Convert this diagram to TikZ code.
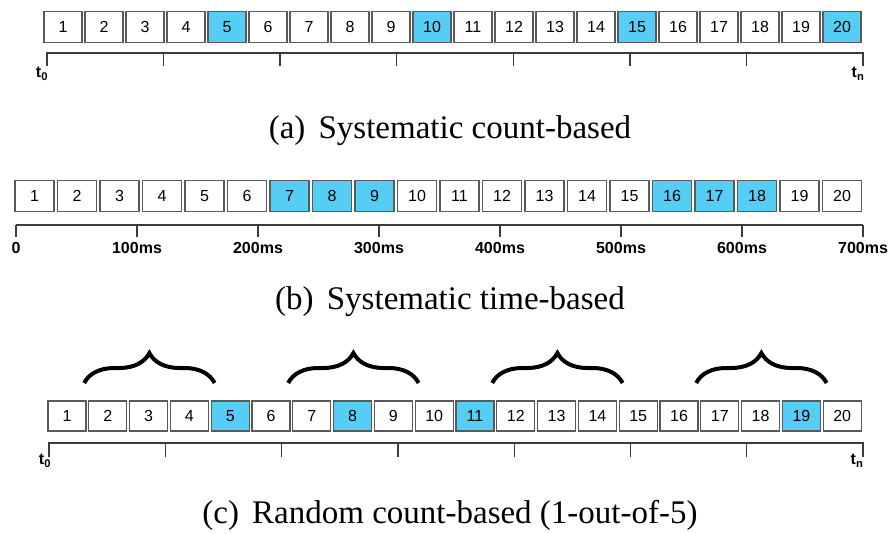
\documentclass[tikz,border=0pt]{standalone}
\usepackage{fontspec}
\setmainfont{Liberation Serif}
\setsansfont{Liberation Sans}
\usetikzlibrary{decorations.pathreplacing, calc}
\definecolor{sampleblue}{RGB}{85, 205, 245}
\definecolor{boxgray}{RGB}{90, 90, 90}
\definecolor{axisgray}{RGB}{60, 60, 60}

\tikzset{
    pkt/.style={draw=boxgray, line width=1.2pt, minimum width=38pt, minimum height=31pt,
        inner sep=0pt, font=\sffamily\fontsize{16}{16}\selectfont},
    axisline/.style={draw=axisgray, line width=1.3pt},
    ticklabel/.style={font=\sffamily\bfseries\fontsize{16}{16}\selectfont},
    caption/.style={font=\fontsize{33}{36}\selectfont},
    window/.style={decorate, decoration={brace, amplitude=30pt}, line width=4pt}
}

\begin{document}
\begin{tikzpicture}[x=1pt, y=-1pt]
    \useasboundingbox (0,0) rectangle (890,534);

    % (a) every 5th packet
    \foreach \i in {1,...,20}{
        \pgfmathtruncatemacro{\hit}{mod(\i,5)==0}
        \ifnum\hit=1 \def\pktcol{sampleblue}\else\def\pktcol{white}\fi
        \node[pkt, fill=\pktcol] (a\i) at ({63+41*(\i-1)}, 27) {\i};
    }
    \coordinate (a-start) at (47,53);
    \coordinate (a-end) at (863,53);
    \draw[axisline] ($(a-start)+(0,13)$) -- (a-start) -- (a-end) -- ($(a-end)+(0,13)$);
    \foreach \k in {1,...,6}
        \draw[axisline] ($(a-start)+({116.57*\k},0)$) -- ++(0,13);
    \node[ticklabel] (a-t0) at (42,74) {t\textsubscript{0}};
    \node[ticklabel] (a-tn) at (858,74) {t\textsubscript{n}};
    \node[caption] (cap-a) at (450,131) {(a)\hspace{0.4em}Systematic count-based};

    % (b) fixed time windows
    \foreach \i in {1,...,20}{
        \pgfmathtruncatemacro{\hit}{or(and(\i>6,\i<10),and(\i>15,\i<19))}
        \ifnum\hit=1 \def\pktcol{sampleblue}\else\def\pktcol{white}\fi
        \node[pkt, fill=\pktcol, minimum width=39pt] (b\i) at ({34.5+42.5*(\i-1)}, 196) {\i};
    }
    \coordinate (b-start) at (16,225);
    \coordinate (b-end) at (863,225);
    \draw[axisline] (b-start) -- (b-end);
    \foreach \k/\lab in {0/0, 1/100ms, 2/200ms, 3/300ms, 4/400ms, 5/500ms, 6/600ms, 7/700ms}{
        \draw[axisline] ($(b-start)+({121*\k},0)$) -- ++(0,12);
        \node[ticklabel] (b-l\k) at ($(b-start)+({121*\k},23)$) {\lab};
    }
    \node[caption] (cap-b) at (450,302) {(b)\hspace{0.4em}Systematic time-based};

    % (c) one random packet out of 5
    \foreach \i in {1,...,20}{
        \pgfmathtruncatemacro{\hit}{or(or(\i==5,\i==8),or(\i==11,\i==19))}
        \ifnum\hit=1 \def\pktcol{sampleblue}\else\def\pktcol{white}\fi
        \node[pkt, fill=\pktcol, minimum height=30pt] (c\i) at ({67+40.8*(\i-1)}, 416) {\i};
    }
    \foreach \s/\e in {2/5, 7/10, 12/15, 17/20}
        \draw[window] ($(c\s.west |- 0,383)+(-4,0)$) -- ($(c\e.west |- 0,383)+(4,0)$);
    \coordinate (c-start) at (49,443);
    \coordinate (c-end) at (863,443);
    \draw[axisline] ($(c-start)+(0,14)$) -- (c-start) -- (c-end) -- ($(c-end)+(0,14)$);
    \foreach \k in {1,...,6}
        \draw[axisline] ($(c-start)+({116.3*\k},0)$) -- ++(0,14);
    \node[ticklabel] (c-t0) at (45,461) {t\textsubscript{0}};
    \node[ticklabel] (c-tn) at (857,461) {t\textsubscript{n}};
    \node[caption] (cap-c) at (450,515) {(c)\hspace{0.4em}Random count-based (1-out-of-5)};
\end{tikzpicture}
\end{document}
